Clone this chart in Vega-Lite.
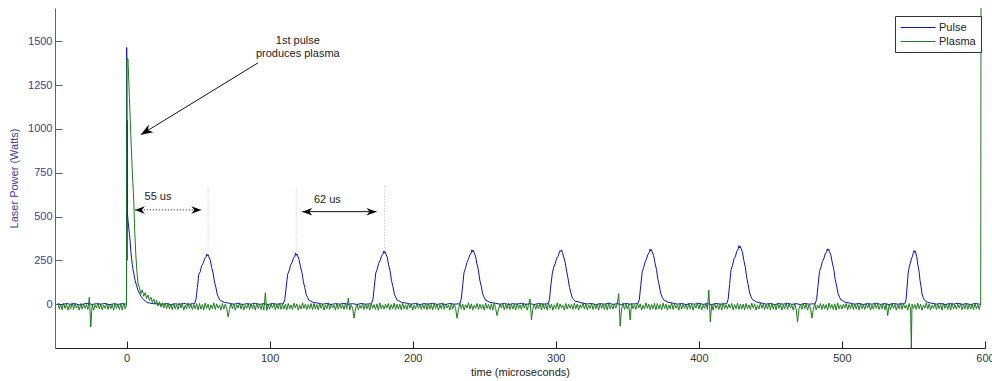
{
  "$schema": "https://vega.github.io/schema/vega-lite/v6.json",
  "width": 930,
  "height": 340,
  "autosize": {"type": "none"},
  "padding": {"left": 55, "top": 8, "right": 7, "bottom": 33},
  "background": "white",
  "config": {
    "view": {"stroke": null},
    "font": "Liberation Sans",
    "text": {"font": "Liberation Sans"}
  },
  "encoding": {
    "x": {
      "field": "t", "type": "quantitative",
      "scale": {"domain": [-50, 600], "nice": false, "zero": false},
      "axis": {
        "values": [0, 100, 200, 300, 400, 500, 600],
        "title": "time (microseconds)",
        "grid": false, "tickSize": -7, "labelPadding": 11,
        "domainColor": "#222", "tickColor": "#222", "labelColor": "#333",
        "labelFontSize": 11, "labelFont": "Liberation Sans",
        "titleFontSize": 11, "titleFont": "Liberation Sans", "titleFontWeight": "normal", "titleColor": "#222",
        "titlePadding": 3, "labelFlush": false
      }
    },
    "y": {
      "field": "v", "type": "quantitative",
      "scale": {"domain": [-250, 1690], "nice": false, "zero": false},
      "axis": {
        "values": [0, 250, 500, 750, 1000, 1250, 1500],
        "format": "d",
        "title": "Laser Power (Watts)",
        "grid": false, "tickSize": -7, "labelPadding": 10,
        "domainColor": "#5a5aa0", "tickColor": "#5a5aa0", "labelColor": "#404090",
        "labelFontSize": 11, "labelFont": "Liberation Sans",
        "titleFontSize": 11, "titleFont": "Liberation Sans", "titleFontWeight": "normal", "titleColor": "#404090",
        "titlePadding": 8
      }
    }
  },
  "layer": [
    {
      "data": {
        "values": "t,v\n-48,2\n-45,-3\n-42,4\n-39,-1\n-36,3\n-33,-4\n-30,1\n-27,5\n-24,-2\n-21,3\n-18,0\n-15,4\n-12,-3\n-9,2\n-6,-1\n-3,3\n-1,0\n-0.1,1\n0,150\n0.1,1465\n0.2,1050\n0.3,250\n0.4,1050\n0.5,530\n1,480\n1.5,440\n2,400\n2.5,360\n3,300\n3.5,262\n4,228\n4.5,200\n5,178\n6,136\n7,106\n8,80\n9,62\n10,46\n11,34\n12,26\n13,19\n14,13\n15,9\n17,5\n19,3\n22,2\n25,-1\n28,4\n31,-2\n34,2\n37,-1\n40,5\n43,-2\n46,3\n47.5,2\n48.5,25\n49.5,95\n50.5,170\n51.5,185\n52.5,220\n53.5,232\n54.5,258\n55.5,268\n56,285\n56.5,276\n57,283\n57.5,270\n58.5,252\n59.5,210\n60.5,178\n61.5,126\n62.5,94\n63.5,52\n64.5,36\n65.5,20\n66.5,18\n68.5,9\n70.5,8\n72.5,4\n75,0\n78,4\n81,-2\n84,3\n87,0\n90,5\n93,-1\n96,3\n99,-2\n102,4\n105,0\n108,2\n109.6,3\n110.6,26\n111.6,98\n112.6,170\n113.6,190\n114.6,222\n115.6,236\n116.6,262\n117.6,272\n118.1,292\n118.6,279\n119.1,287\n119.6,275\n120.6,255\n121.6,213\n122.6,180\n123.6,128\n124.6,95\n125.6,54\n126.6,37\n127.6,21\n128.6,19\n130.6,9\n132.6,8\n134.6,5\n137,0\n140,4\n143,-2\n146,3\n149,0\n152,5\n155,-1\n158,3\n161,-2\n164,4\n167,0\n170,2\n171.2,3\n172.2,27\n173.2,102\n174.2,178\n175.2,200\n176.2,232\n177.2,248\n178.2,275\n179.2,285\n179.7,302\n180.2,292\n180.7,300\n181.2,287\n182.2,268\n183.2,224\n184.2,190\n185.2,134\n186.2,100\n187.2,57\n188.2,39\n189.2,22\n190.2,20\n192.2,10\n194.2,8\n196.2,5\n199,0\n202,4\n205,-2\n208,3\n211,0\n214,5\n217,-1\n220,3\n223,-2\n226,4\n229,0\n232,2\n232.9,3\n233.9,28\n234.9,105\n235.9,182\n236.9,205\n237.9,238\n238.9,255\n239.9,281\n240.9,292\n241.4,310\n241.9,299\n242.4,307\n242.9,294\n243.9,275\n244.9,230\n245.9,196\n246.9,138\n247.9,103\n248.9,59\n249.9,40\n250.9,23\n251.9,20\n253.9,10\n255.9,8\n257.9,5\n261,0\n264,4\n267,-2\n270,3\n273,0\n276,5\n279,-1\n282,3\n285,-2\n288,4\n291,0\n294,2\n294.6,3\n295.6,26\n296.6,110\n297.6,176\n298.6,212\n299.6,230\n300.6,262\n301.6,273\n302.6,298\n303.1,306\n303.6,300\n304.1,309\n304.6,296\n305.6,268\n306.6,237\n307.6,188\n308.6,146\n309.6,95\n310.6,64\n311.6,35\n312.6,27\n313.6,16\n315.6,14\n317.6,8\n319.6,5\n322,1\n325,4\n328,-2\n331,3\n334,0\n337,5\n340,-1\n343,3\n346,-2\n349,4\n352,0\n355,2\n357.4,3\n358.4,27\n359.4,106\n360.4,184\n361.4,208\n362.4,240\n363.4,258\n364.4,284\n365.4,296\n365.9,314\n366.4,304\n366.9,311\n367.4,298\n368.4,278\n369.4,233\n370.4,198\n371.4,140\n372.4,104\n373.4,60\n374.4,40\n375.4,24\n376.4,21\n378.4,11\n380.4,8\n382.4,5\n385,0\n388,4\n391,-2\n394,3\n397,0\n400,5\n403,-1\n406,3\n409,-2\n412,4\n415,0\n418,2\n419.5,3\n420.5,29\n421.5,112\n422.5,198\n423.5,220\n424.5,258\n425.5,270\n426.5,302\n427.5,315\n428,334\n428.5,322\n429,330\n429.5,318\n430.5,296\n431.5,248\n432.5,210\n433.5,150\n434.5,110\n435.5,64\n436.5,42\n437.5,25\n438.5,22\n440.5,12\n442.5,9\n444.5,5\n447,0\n450,4\n453,-2\n456,3\n459,0\n462,5\n465,-1\n468,3\n471,-2\n474,4\n477,0\n480,2\n481.3,3\n482.3,27\n483.3,106\n484.3,186\n485.3,208\n486.3,243\n487.3,258\n488.3,287\n489.3,298\n489.8,316\n490.3,306\n490.8,313\n491.3,300\n492.3,280\n493.3,235\n494.3,200\n495.3,141\n496.3,104\n497.3,60\n498.3,40\n499.3,24\n500.3,21\n502.3,11\n504.3,8\n506.3,5\n509,0\n512,4\n515,-2\n518,3\n521,0\n524,5\n527,-1\n530,3\n533,-2\n536,4\n539,0\n542,2\n544,3\n544.8,26\n545.6,104\n546.3,178\n547,210\n547.8,233\n548.5,258\n549.3,272\n550,296\n550.4,306\n550.8,296\n551.2,303\n551.6,292\n552.3,271\n553,228\n553.8,192\n554.6,136\n555.3,100\n556,58\n556.8,38\n557.6,24\n558.3,20\n559.8,11\n561.3,8\n562.8,5\n566,0\n569,4\n572,-2\n575,3\n578,0\n581,5\n584,-1\n587,3\n590,-2\n593,4\n596,0\n597,2",
        "format": {"type": "csv", "parse": {"t": "number", "v": "number"}}
      },
      "mark": {"type": "line", "strokeWidth": 1, "clip": true},
      "encoding": {
        "color": {
          "datum": "Pulse",
          "scale": {"domain": ["Pulse", "Plasma"], "range": ["#1010b8", "#1c7c1c"]},
          "legend": {
            "orient": "none", "legendX": 840, "legendY": 8, "title": null,
            "symbolType": "M-1,0H5", "symbolSize": 136, "symbolStrokeWidth": 1,
            "labelFontSize": 11, "labelFont": "Liberation Sans", "labelColor": "#222",
            "labelOffset": 26, "rowPadding": 2, "padding": 5,
            "strokeColor": "#333", "fillColor": "#ffffff"
          }
        }
      }
    },
    {
      "data": {
        "values": "t,v\n-48,4\n-47,-28\n-46,-2\n-45,-32\n-44,6\n-43,-24\n-42,0\n-41,-34\n-40,-4\n-39,-26\n-38,8\n-37,-30\n-36,2\n-35,-22\n-34,-6\n-33,-34\n-32,4\n-31,-28\n-30,0\n-29,-24\n-28,-2\n-27,-30\n-26,40\n-25,-130\n-24,0\n-23,-34\n-22,-4\n-21,-22\n-20,8\n-19,-28\n-18,2\n-17,-32\n-16,-6\n-15,-24\n-14,4\n-13,-30\n-12,0\n-11,-26\n-10,-2\n-9,-34\n-8,6\n-7,-24\n-6,-2\n-5,-30\n-4,2\n-3,-34\n-2,8\n-1,-26\n0,-8\n0.2,1400\n1,1400\n2,1180\n3,960\n4,760\n5,600\n5.7,420\n6.5,280\n7.3,180\n8.1,115\n9,95\n10,60\n11,82\n12,45\n13,66\n14,32\n15,52\n16,22\n17,40\n18,10\n19,30\n20,0\n21,22\n22,-10\n23,14\n24,-16\n25,8\n26,-22\n27,6\n28,-26\n29,4\n30,-28\n31,0\n32,-32\n33,4\n34,-26\n35,-4\n36,-30\n37,6\n38,-22\n39,2\n40,-34\n41,-6\n42,-28\n43,8\n44,-24\n45,0\n46,-30\n47,-2\n48,-26\n49,4\n50,-32\n51,4\n52,-28\n53,-2\n54,-32\n55,6\n56,-24\n57,0\n58,-34\n59,-4\n60,-26\n61,8\n62,-30\n63,2\n64,-22\n65,-6\n66,-34\n67,4\n68,-28\n69,0\n70,-24\n71,-72\n72,-30\n73,6\n74,-26\n75,0\n76,-34\n77,-4\n78,-22\n79,8\n80,-28\n81,2\n82,-32\n83,-6\n84,-24\n85,4\n86,-30\n87,0\n88,-26\n89,-2\n90,-34\n91,6\n92,-24\n93,-2\n94,-30\n95,2\n96,-34\n97,65\n98,-35\n99,-4\n100,-28\n101,0\n102,-22\n103,4\n104,-32\n105,-2\n106,-26\n107,6\n108,-30\n109,0\n110,-28\n111,0\n112,-32\n113,4\n114,-26\n115,-4\n116,-30\n117,6\n118,-22\n119,2\n120,-34\n121,-6\n122,-28\n123,8\n124,-24\n125,0\n126,-30\n127,-2\n128,-26\n129,4\n130,-32\n131,4\n132,-28\n133,-2\n134,-32\n135,6\n136,-24\n137,0\n138,-34\n139,-4\n140,-26\n141,8\n142,-30\n143,2\n144,-22\n145,-6\n146,-34\n147,4\n148,-28\n149,0\n150,-24\n151,-2\n152,-30\n153,6\n154,-26\n155,35\n156,-34\n157,-4\n158,-22\n159,-80\n160,-28\n161,2\n162,-32\n163,-6\n164,-24\n165,4\n166,-30\n167,0\n168,-26\n169,-2\n170,-34\n171,6\n172,-24\n173,-2\n174,-30\n175,2\n176,-34\n177,8\n178,-26\n179,-4\n180,-28\n181,0\n182,-22\n183,4\n184,-32\n185,-2\n186,-26\n187,6\n188,-30\n189,0\n190,-28\n191,0\n192,-32\n193,4\n194,-26\n195,-4\n196,-30\n197,6\n198,-22\n199,2\n200,-34\n201,-6\n202,-28\n203,8\n204,-24\n205,0\n206,-30\n207,-2\n208,-26\n209,4\n210,-32\n211,4\n212,-28\n213,-2\n214,-32\n215,6\n216,-24\n217,0\n218,-34\n219,-4\n220,-26\n221,8\n222,-30\n223,2\n224,-22\n225,-6\n226,-34\n227,4\n228,-28\n229,0\n230,-24\n231,-80\n232,-30\n233,6\n234,-26\n235,0\n236,-34\n237,-4\n238,-22\n239,8\n240,-28\n241,2\n242,-32\n243,-6\n244,-24\n245,4\n246,-30\n247,0\n248,-26\n249,-2\n250,-34\n251,6\n252,-24\n253,-2\n254,-30\n255,2\n256,-34\n257,8\n258,-26\n259,-65\n260,-28\n261,0\n262,-22\n263,4\n264,-32\n265,-2\n266,-26\n267,6\n268,-30\n269,0\n270,-28\n271,0\n272,-32\n273,4\n274,-26\n275,-4\n276,-30\n277,6\n278,-22\n279,2\n280,-34\n281,-6\n282,30\n283,-90\n284,-24\n285,0\n286,-30\n287,-2\n288,-26\n289,4\n290,-32\n291,4\n292,-28\n293,-2\n294,-32\n295,6\n296,-24\n297,0\n298,-34\n299,-4\n300,-26\n301,8\n302,-30\n303,2\n304,-22\n305,-6\n306,-34\n307,4\n308,-28\n309,0\n310,-24\n311,-2\n312,-30\n313,6\n314,-26\n315,0\n316,-34\n317,-4\n318,-22\n319,8\n320,-28\n321,2\n322,-32\n323,-6\n324,-24\n325,4\n326,-30\n327,0\n328,-26\n329,-2\n330,-34\n331,6\n332,-24\n333,-2\n334,-30\n335,2\n336,-34\n337,8\n338,-26\n339,-4\n340,-28\n341,0\n342,-22\n343,4\n344,60\n345,-126\n346,-26\n347,6\n348,-30\n349,0\n350,-28\n351,0\n352,-90\n353,4\n354,-26\n355,-4\n356,-30\n357,6\n358,-22\n359,2\n360,-34\n361,-6\n362,-28\n363,8\n364,-24\n365,0\n366,-30\n367,-2\n368,-26\n369,4\n370,-32\n371,4\n372,-28\n373,-2\n374,-32\n375,6\n376,-24\n377,0\n378,-34\n379,-4\n380,-26\n381,8\n382,-30\n383,2\n384,-22\n385,-6\n386,-34\n387,4\n388,-28\n389,0\n390,-24\n391,-2\n392,-30\n393,6\n394,-26\n395,0\n396,-34\n397,-4\n398,-22\n399,8\n400,-28\n401,2\n402,-32\n403,-6\n404,-24\n405,4\n406,-30\n407,80\n408,-100\n409,-2\n410,-34\n411,6\n412,-24\n413,-2\n414,-30\n415,2\n416,-34\n417,8\n418,-26\n419,-4\n420,-28\n421,0\n422,-22\n423,4\n424,-32\n425,-2\n426,-26\n427,6\n428,-30\n429,0\n430,-28\n431,0\n432,-32\n433,4\n434,-26\n435,-4\n436,-30\n437,6\n438,-22\n439,2\n440,-34\n441,-6\n442,-28\n443,8\n444,-24\n445,0\n446,-30\n447,-2\n448,-26\n449,4\n450,-32\n451,4\n452,-28\n453,-2\n454,-32\n455,6\n456,-24\n457,0\n458,-34\n459,-4\n460,-26\n461,8\n462,-30\n463,2\n464,-22\n465,-6\n466,-34\n467,4\n468,-28\n469,-100\n470,-24\n471,-2\n472,-30\n473,6\n474,-26\n475,0\n476,-34\n477,-4\n478,-22\n479,-80\n480,-28\n481,2\n482,-32\n483,-6\n484,-24\n485,4\n486,-30\n487,0\n488,-26\n489,-2\n490,-34\n491,6\n492,-24\n493,-2\n494,-30\n495,2\n496,-34\n497,8\n498,-26\n499,-4\n500,-28\n501,0\n502,-22\n503,4\n504,-32\n505,-2\n506,-26\n507,6\n508,-30\n509,0\n510,-28\n511,0\n512,-32\n513,4\n514,-26\n515,-4\n516,-30\n517,6\n518,-22\n519,2\n520,-34\n521,-6\n522,-28\n523,8\n524,-24\n525,0\n526,-30\n527,-2\n528,-26\n529,4\n530,-32\n531,4\n532,-65\n533,-2\n534,-32\n535,6\n536,-24\n537,0\n538,-34\n539,-4\n540,-26\n541,8\n542,-30\n543,2\n544,-22\n545,-6\n546,-34\n547,4\n548,-28\n548.5,-250\n549,0\n550,-24\n551,-2\n552,-30\n553,6\n554,-26\n555,0\n556,-34\n557,-4\n558,-22\n559,8\n560,-28\n561,2\n562,-32\n563,-6\n564,-24\n565,4\n566,-30\n567,0\n568,-26\n569,-2\n570,-34\n571,6\n572,-24\n573,-2\n574,-30\n575,2\n576,-34\n577,8\n578,-26\n579,-4\n580,-28\n581,0\n582,-22\n583,4\n584,-32\n585,-2\n586,-26\n587,6\n588,-30\n589,0\n590,-28\n591,0\n592,-32\n593,4\n594,-26\n595,-4\n596,-30\n597,6\n597.2,1700",
        "format": {"type": "csv", "parse": {"t": "number", "v": "number"}}
      },
      "mark": {"type": "line", "strokeWidth": 1, "clip": true},
      "encoding": {"color": {"datum": "Plasma"}}
    },
    {
      "data": {"values": [{"t": 57, "v": 300, "v2": 672}, {"t": 118.6, "v": 300, "v2": 672}, {"t": 180.3, "v": 305, "v2": 672}]},
      "mark": {"type": "rule", "color": "#bdbdbd", "strokeWidth": 1, "strokeDash": [1, 2]},
      "encoding": {"y2": {"field": "v2"}}
    },
    {
      "data": {"values": [{"t": 91.9, "v": 1377, "t2": 10, "v2": 967}, {"t": 122.8, "v": 528, "t2": 174.7, "v2": 528}]},
      "mark": {"type": "rule", "color": "#111", "strokeWidth": 1},
      "encoding": {"x2": {"field": "t2"}, "y2": {"field": "v2"}}
    },
    {
      "data": {"values": [{"t": 5.8, "v": 538, "t2": 52.3, "v2": 538}]},
      "mark": {"type": "rule", "color": "#111", "strokeWidth": 1, "strokeDash": [1, 2]},
      "encoding": {"x2": {"field": "t2"}, "y2": {"field": "v2"}}
    },
    {
      "data": {"values": [{"t": 10, "v": 967}]},
      "mark": {"type": "point", "shape": "M0,0L-2,-0.75L-1.4,0L-2,0.75Z", "filled": true, "color": "#000", "opacity": 1, "size": 144, "angle": 148.6}
    },
    {
      "data": {"values": [{"t": 5.8, "v": 538}, {"t": 122.8, "v": 528}]},
      "mark": {"type": "point", "shape": "M0,0L-2,-0.75L-1.4,0L-2,0.75Z", "filled": true, "color": "#000", "opacity": 1, "size": 100, "angle": 180}
    },
    {
      "data": {"values": [{"t": 52.3, "v": 538}, {"t": 174.7, "v": 528}]},
      "mark": {"type": "point", "shape": "M0,0L-2,-0.75L-1.4,0L-2,0.75Z", "filled": true, "color": "#000", "opacity": 1, "size": 100, "angle": 0}
    },
    {
      "data": {"values": [
        {"t": 119.7, "v": 1500, "label": "1st pulse"},
        {"t": 119.7, "v": 1425, "label": "produces plasma"},
        {"t": 22, "v": 614, "label": "55 us"},
        {"t": 140.4, "v": 592, "label": "62 us"}
      ]},
      "mark": {"type": "text", "fontSize": 11, "font": "Liberation Sans", "color": "#222", "align": "center", "baseline": "middle"},
      "encoding": {"text": {"field": "label"}}
    }
  ]
}
